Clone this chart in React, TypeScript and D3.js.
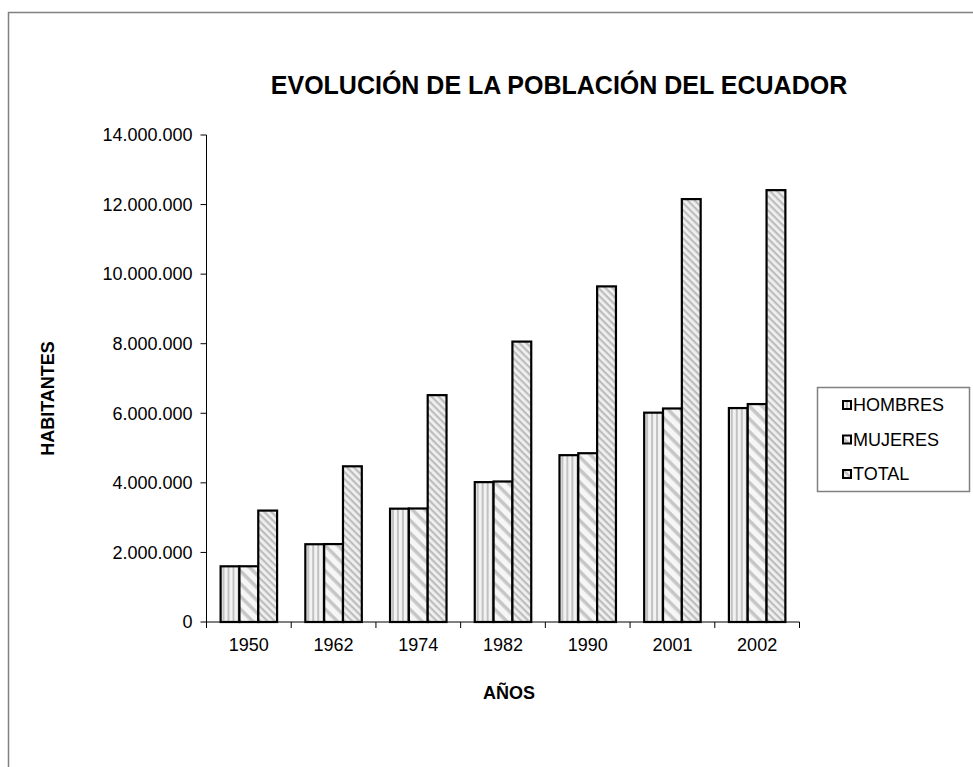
import React from "react";
import * as d3 from "d3";

const years = ["1950", "1962", "1974", "1982", "1990", "2001", "2002"];
const seriesNames = ["HOMBRES", "MUJERES", "TOTAL"];
const hombres = [1601000, 2236000, 3258000, 4021000, 4796000, 6018000, 6150000];
const mujeres = [1602000, 2240000, 3263000, 4039000, 4852000, 6138000, 6265000];
const total = [3203000, 4476000, 6522000, 8061000, 9648000, 12157000, 12415000];
const yTicks = [0, 2000000, 4000000, 6000000, 8000000, 10000000, 12000000, 14000000];

const W = 973;
const H = 767;
const FONT = "'Liberation Sans', Arial, sans-serif";

export default function App() {
  const seriesValues = [hombres, mujeres, total];
  const left = 206.5;
  const right = 799.5;
  const top = 135;
  const bottom = 622;

  const x = d3.scaleBand<string>().domain(years).range([left, right]).padding(0);
  const xi = d3
    .scaleBand<string>()
    .domain(seriesNames)
    .range([0, x.bandwidth()])
    .paddingInner(0)
    .paddingOuter(0.75);
  const y = d3.scaleLinear().domain([0, 14000000]).range([bottom, top]);
  const loc = d3.formatLocale({ thousands: ".", grouping: [3], decimal: ",", currency: ["", ""] });
  const fmt = loc.format(",d");

  const fills = ["url(#patH)", "url(#patM)", "url(#patT)"];

  const legendRows = [405, 439.5, 474];

  return (
    <svg
      width={W}
      height={H}
      style={{ position: "absolute", left: 0, top: 0, background: "#fff" }}
      fontFamily={FONT}
    >
      <defs>
        <pattern id="patH" patternUnits="userSpaceOnUse" width={5} height={5}>
          <rect width={5} height={5} fill="#f2f2f2" />
          <rect x={1} width={2} height={5} fill="#c2c2c2" />
        </pattern>
        <pattern
          id="patM"
          patternUnits="userSpaceOnUse"
          width={9}
          height={9}
          patternTransform="rotate(45)"
        >
          <rect width={9} height={9} fill="#f6f6f6" />
          <rect y={0} width={9} height={3.5} fill="#c6c6c6" />
        </pattern>
        <pattern
          id="patT"
          patternUnits="userSpaceOnUse"
          width={5}
          height={5}
          patternTransform="rotate(45)"
        >
          <rect width={5} height={5} fill="#f0f0f0" />
          <rect y={0} width={5} height={2.2} fill="#bdbdbd" />
        </pattern>
      </defs>

      {/* outer frame */}
      <rect x={8.5} y={12.5} width={W + 20} height={H + 20} fill="none" stroke="#808080" strokeWidth={1.5} />

      {/* title */}
      <text x={559} y={94} textAnchor="middle" fontSize={25} fontWeight="bold">
        EVOLUCIÓN DE LA POBLACIÓN DEL ECUADOR
      </text>

      {/* bars */}
      {years.map((yr, i) => (
        <g key={yr} transform={`translate(${x(yr)},0)`}>
          {seriesNames.map((s, j) => {
            const v = seriesValues[j][i];
            return (
              <rect
                key={s}
                x={xi(s)}
                y={y(v)}
                width={xi.bandwidth()}
                height={bottom - y(v)}
                fill={fills[j]}
                stroke="#000"
                strokeWidth={2.2}
              />
            );
          })}
        </g>
      ))}

      {/* y axis */}
      <line x1={left} x2={left} y1={top} y2={bottom} stroke="#000" strokeWidth={1} />
      {yTicks.map((t) => (
        <g key={t}>
          <line x1={left - 6} x2={left} y1={y(t)} y2={y(t)} stroke="#000" strokeWidth={1} />
          <text x={left - 14} y={y(t)} dy="0.35em" textAnchor="end" fontSize={18}>
            {fmt(t)}
          </text>
        </g>
      ))}

      {/* x axis */}
      <line x1={left} x2={right} y1={bottom} y2={bottom} stroke="#000" strokeWidth={1} />
      {years.map((yr) => (
        <line
          key={"t" + yr}
          x1={x(yr)!}
          x2={x(yr)!}
          y1={bottom}
          y2={bottom + 6}
          stroke="#000"
          strokeWidth={1}
        />
      ))}
      <line x1={right} x2={right} y1={bottom} y2={bottom + 6} stroke="#000" strokeWidth={1} />
      {years.map((yr) => (
        <text
          key={"l" + yr}
          x={x(yr)! + x.bandwidth() / 2}
          y={651}
          textAnchor="middle"
          fontSize={18}
        >
          {yr}
        </text>
      ))}

      {/* axis titles */}
      <text x={509} y={699} textAnchor="middle" fontSize={18} fontWeight="bold">
        AÑOS
      </text>
      <text
        transform={`translate(54,${(top + bottom) / 2 + 20}) rotate(-90)`}
        textAnchor="middle"
        fontSize={18}
        fontWeight="bold"
      >
        HABITANTES
      </text>

      {/* legend */}
      <rect x={817.5} y={387.5} width={152} height={104} fill="#fff" stroke="#808080" strokeWidth={1.5} />
      {seriesNames.map((s, j) => (
        <g key={"lg" + s}>
          <rect
            x={843}
            y={legendRows[j] - 4}
            width={8}
            height={8}
            fill={fills[j]}
            stroke="#000"
            strokeWidth={2}
          />
          <text x={853} y={legendRows[j]} dy="0.35em" fontSize={18}>
            {s}
          </text>
        </g>
      ))}
    </svg>
  );
}
